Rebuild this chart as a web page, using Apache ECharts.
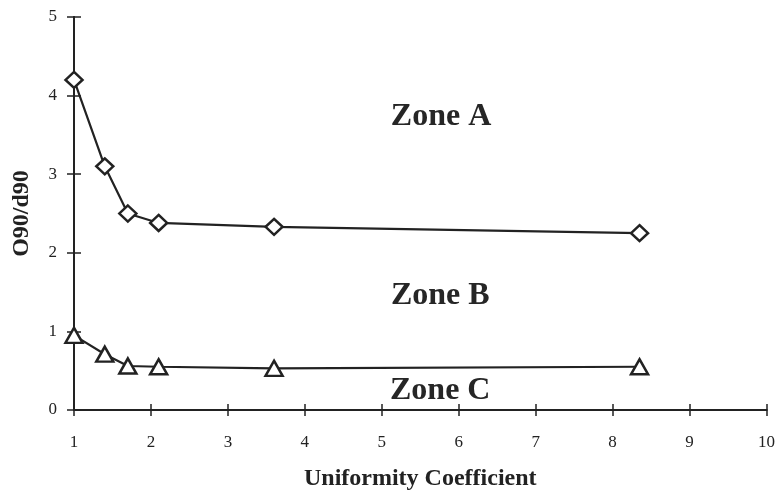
<!DOCTYPE html>
<html>
<head>
<meta charset="utf-8">
<script src="https://cdn.jsdelivr.net/npm/echarts@6/dist/echarts.min.js"></script>
<style>html,body{margin:0;padding:0;background:#fff;}#c{width:778px;height:496px;}</style>
</head>
<body>
<div id="c"></div>
<script>
var ucDiamond = [1.0, 1.4, 1.7, 2.1, 3.6, 8.35];
var zoneABLine = [4.2, 3.1, 2.5, 2.38, 2.33, 2.25];
var ucTriangle = [1.0, 1.4, 1.7, 2.1, 3.6, 8.35];
var zoneBCLine = [0.95, 0.71, 0.56, 0.55, 0.53, 0.55];
var zoneNames = ['Zone A', 'Zone B', 'Zone C'];
var zoneX = [5.77, 5.76, 5.76];
var zoneY = [3.73, 1.45, 0.24];
var xTicks = [1, 2, 3, 4, 5, 6, 7, 8, 9, 10];
var yTicks = [0, 1, 2, 3, 4, 5];

function pairs(xs, ys) { return xs.map(function (x, i) { return [x, ys[i]]; }); }

var ink = '#222';
var serif = '"Liberation Serif", "Times New Roman", serif';

var chart = echarts.init(document.getElementById('c'));
var axisBase = {
  type: 'value',
  axisLine: { show: true, lineStyle: { color: ink, width: 2 } },
  splitLine: { show: false },
  axisLabel: { color: ink, fontFamily: serif, fontSize: 17 }
};
chart.setOption({
  animation: false,
  grid: { left: 74, right: 8, top: 17, bottom: 86 },
  xAxis: [
    Object.assign({}, axisBase, {
      min: xTicks[0], max: xTicks[xTicks.length - 1], interval: 1,
      axisTick: { show: true, inside: false, length: 6, lineStyle: { color: ink, width: 1.5 } },
      axisLabel: { color: ink, fontFamily: serif, fontSize: 17, margin: 24 },
      name: 'Uniformity Coefficient', nameLocation: 'middle', nameGap: 57,
      nameTextStyle: { color: ink, fontFamily: serif, fontSize: 24, fontWeight: 'bold' }
    }),
    Object.assign({}, axisBase, {
      min: xTicks[0], max: xTicks[xTicks.length - 1], interval: 1, position: 'bottom',
      axisTick: { show: true, inside: true, length: 6, lineStyle: { color: ink, width: 1.5 } },
      axisLabel: { show: false }
    })
  ],
  yAxis: [
    Object.assign({}, axisBase, {
      min: yTicks[0], max: yTicks[yTicks.length - 1], interval: 1,
      axisTick: { show: true, inside: false, length: 7, lineStyle: { color: ink, width: 1.5 } },
      axisLabel: { color: ink, fontFamily: serif, fontSize: 17, margin: 17 },
      name: 'O90/d90', nameLocation: 'middle', nameGap: 40, nameRotate: 90,
      nameTextStyle: { color: ink, fontFamily: serif, fontSize: 24, fontWeight: 'bold' }
    }),
    Object.assign({}, axisBase, {
      min: yTicks[0], max: yTicks[yTicks.length - 1], interval: 1, position: 'left',
      axisTick: { show: true, inside: true, length: 7, lineStyle: { color: ink, width: 1.5 } },
      axisLabel: { show: false }
    })
  ],
  series: [
    {
      type: 'line', data: pairs(ucDiamond, zoneABLine),
      symbol: 'diamond', symbolSize: [17, 16], showAllSymbol: true,
      lineStyle: { color: ink, width: 2.2 },
      itemStyle: { color: '#fff', borderColor: ink, borderWidth: 2.5 }
    },
    {
      type: 'line', data: pairs(ucTriangle, zoneBCLine),
      symbol: 'triangle', symbolSize: [17, 15], showAllSymbol: true,
      lineStyle: { color: ink, width: 2.2 },
      itemStyle: { color: '#fff', borderColor: ink, borderWidth: 2.5 }
    },
    {
      type: 'scatter', symbolSize: 0, silent: true,
      itemStyle: { opacity: 1 },
      data: zoneNames.map(function (n, i) { return { name: n, value: [zoneX[i], zoneY[i]] }; }),
      label: {
        show: true, position: 'inside', formatter: '{b}', opacity: 1,
        color: '#262626', fontFamily: serif, fontSize: 32, fontWeight: 'bold'
      }
    }
  ]
});
</script>
</body>
</html>
